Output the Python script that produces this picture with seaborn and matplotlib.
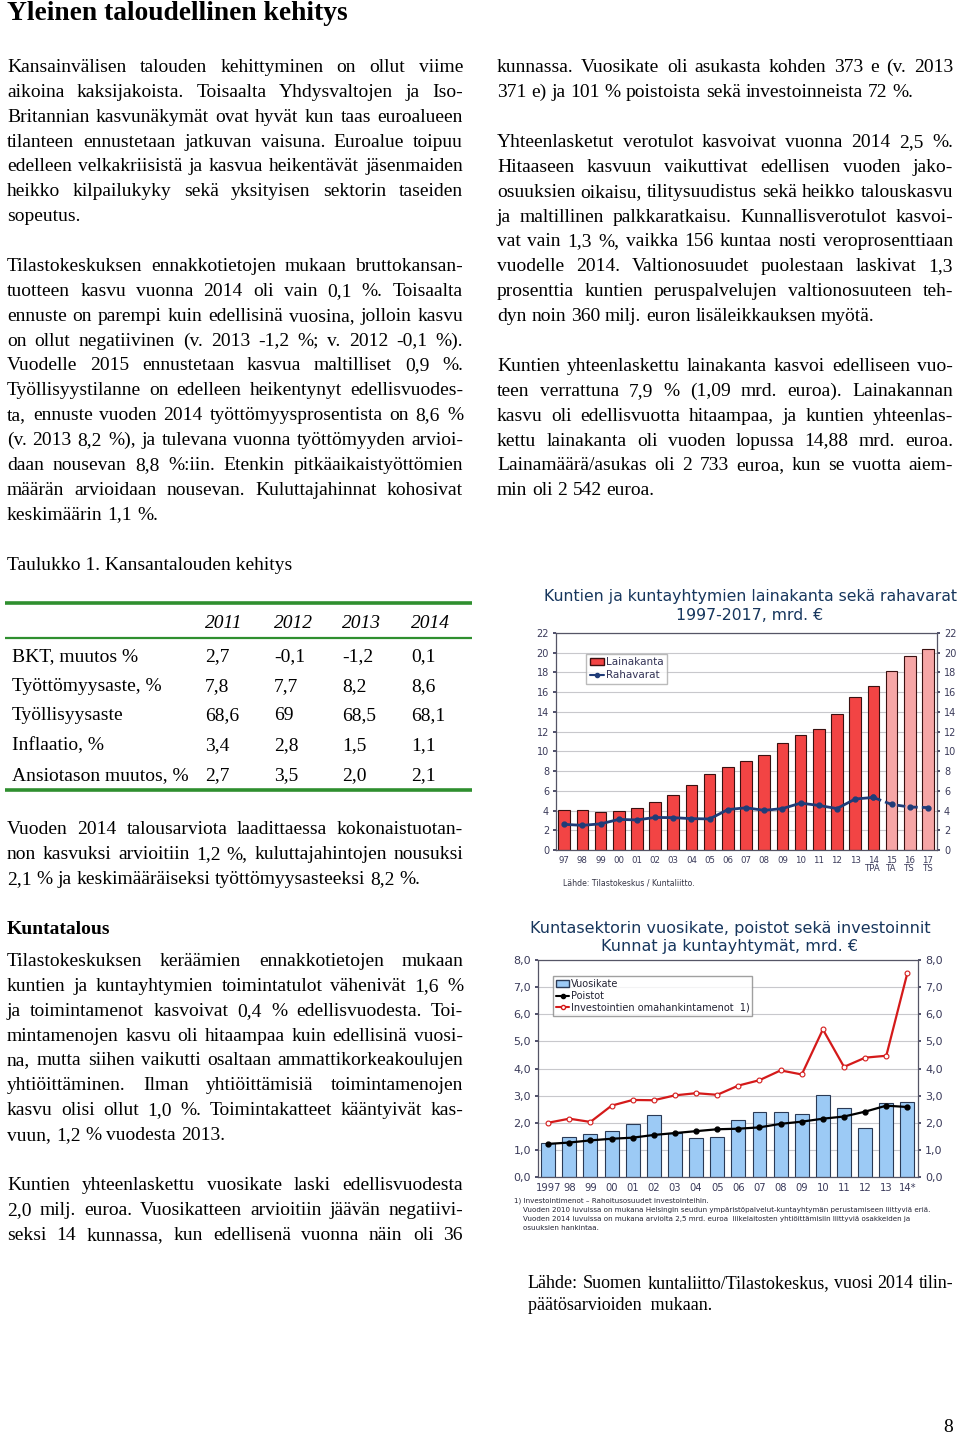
import matplotlib
matplotlib.use("Agg")
import matplotlib.pyplot as plt
from matplotlib.patches import Patch
from matplotlib.lines import Line2D
import seaborn as sns
import numpy as np

W, H = 960, 1435

# chart 1 data: lainakanta / rahavarat 1997-2017, mrd. eur
years1 = ["97", "98", "99", "00", "01", "02", "03", "04", "05", "06", "07",
          "08", "09", "10", "11", "12", "13", "14\nTPA", "15\nTA", "16\nTS", "17\nTS"]
lainakanta = [4.1, 4.1, 3.9, 4.0, 4.3, 4.85, 5.6, 6.6, 7.7, 8.4, 9.0,
              9.6, 10.85, 11.7, 12.3, 13.8, 15.5, 16.65, 18.1, 19.7, 20.35]
rahavarat = [2.6, 2.5, 2.65, 3.1, 3.05, 3.3, 3.28, 3.18, 3.15, 4.1, 4.28,
             4.02, 4.2, 4.75, 4.52, 4.2, 5.17, 5.33, 4.62, 4.36, 4.3]

# chart 2 data: vuosikate, poistot, investoinnit 1997-2014
years2 = ["1997", "98", "99", "00", "01", "02", "03", "04", "05", "06", "07",
          "08", "09", "10", "11", "12", "13", "14*"]
vuosikate = [1.24, 1.49, 1.57, 1.70, 1.97, 2.28, 1.61, 1.43, 1.46, 2.10, 2.39,
             2.41, 2.31, 3.03, 2.55, 1.80, 2.71, 2.76]
poistot = [1.22, 1.27, 1.35, 1.41, 1.45, 1.55, 1.62, 1.69, 1.76, 1.78, 1.83,
           1.96, 2.04, 2.15, 2.23, 2.41, 2.63, 2.58]
investoinnit = [2.0, 2.15, 2.03, 2.63, 2.84, 2.83, 3.01, 3.09, 3.03, 3.37, 3.57,
                3.93, 3.78, 5.44, 4.06, 4.40, 4.47, 7.53]

# table 1
tab_years = ["2011", "2012", "2013", "2014"]
tab_rows = ["BKT, muutos %", "Työttömyysaste, %", "Työllisyysaste",
            "Inflaatio, %", "Ansiotason muutos, %"]
tab_vals = [["2,7", "-0,1", "-1,2", "0,1"],
            ["7,8", "7,7", "8,2", "8,6"],
            ["68,6", "69", "68,5", "68,1"],
            ["3,4", "2,8", "1,5", "1,1"],
            ["2,7", "3,5", "2,0", "2,1"]]

sns.set_theme(style="white")
plt.rcParams["font.family"] = ["DejaVu Sans"]

fig = plt.figure(figsize=(W / 100, H / 100), dpi=100)
renderer = fig.canvas.get_renderer()
SERIF = "Liberation Serif"
BODY = 14


def fx(x):
    return x / W


def fy(y):
    return 1 - y / H


def txt(x, y, s, **kw):
    kw.setdefault("family", SERIF)
    kw.setdefault("fontsize", BODY)
    kw.setdefault("color", "black")
    return fig.text(fx(x), fy(y), s, **kw)


def width(s, size=BODY):
    t = fig.text(0, 0, s, fontsize=size, family=SERIF)
    w = t.get_window_extent(renderer).width
    t.remove()
    return w


# draw one line of text, justified between x0 and x1 if asked
def put_line(x0, x1, yc, line, justify=True, size=BODY):
    words = line.split()
    ws = [width(w, size) for w in words]
    if justify and len(words) > 1:
        gap = (x1 - x0 - sum(ws)) / (len(words) - 1)
    else:
        gap = width("x x", size) - width("xx", size)
    x = x0
    for w, wd in zip(words, ws):
        txt(x, yc + 5, w, va="baseline", fontsize=size)
        x += wd + gap


def paragraph(x0, x1, y0, lines, last_justified=False, step=24.85):
    for i, ln in enumerate(lines):
        just = (i < len(lines) - 1) or last_justified
        put_line(x0, x1, y0 + i * step, ln, just)


LX0, LX1 = 7, 463
RX0, RX1 = 497, 953

txt(7, 14, "Yleinen taloudellinen kehitys", fontsize=19.8, weight="bold", va="center")

paragraph(LX0, LX1, 67, [
    "Kansainvälisen talouden kehittyminen on ollut viime",
    "aikoina kaksijakoista. Toisaalta Yhdysvaltojen ja Iso-",
    "Britannian kasvunäkymät ovat hyvät kun taas euroalueen",
    "tilanteen ennustetaan jatkuvan vaisuna. Euroalue toipuu",
    "edelleen velkakriisistä ja kasvua heikentävät jäsenmaiden",
    "heikko kilpailukyky sekä yksityisen sektorin taseiden",
    "sopeutus."])

paragraph(LX0, LX1, 266, [
    "Tilastokeskuksen ennakkotietojen mukaan bruttokansan-",
    "tuotteen kasvu vuonna 2014 oli vain 0,1 %. Toisaalta",
    "ennuste on parempi kuin edellisinä vuosina, jolloin kasvu",
    "on ollut negatiivinen (v. 2013 -1,2 %; v. 2012 -0,1 %).",
    "Vuodelle 2015 ennustetaan kasvua maltilliset 0,9 %.",
    "Työllisyystilanne on edelleen heikentynyt edellisvuodes-",
    "ta, ennuste vuoden 2014 työttömyysprosentista on 8,6 %",
    "(v. 2013 8,2 %), ja tulevana vuonna työttömyyden arvioi-",
    "daan nousevan 8,8 %:iin. Etenkin pitkäaikaistyöttömien",
    "määrän arvioidaan nousevan. Kuluttajahinnat kohosivat",
    "keskimäärin 1,1 %."])

paragraph(RX0, RX1, 67, [
    "kunnassa. Vuosikate oli asukasta kohden 373 e (v. 2013",
    "371 e) ja 101 % poistoista sekä investoinneista 72 %."])

paragraph(RX0, RX1, 142, [
    "Yhteenlasketut verotulot kasvoivat vuonna 2014 2,5 %.",
    "Hitaaseen kasvuun vaikuttivat edellisen vuoden jako-",
    "osuuksien oikaisu, tilitysuudistus sekä heikko talouskasvu",
    "ja maltillinen palkkaratkaisu. Kunnallisverotulot kasvoi-",
    "vat vain 1,3 %, vaikka 156 kuntaa nosti veroprosenttiaan",
    "vuodelle 2014. Valtionosuudet puolestaan laskivat 1,3",
    "prosenttia kuntien peruspalvelujen valtionosuuteen teh-",
    "dyn noin 360 milj. euron lisäleikkauksen myötä."])

paragraph(RX0, RX1, 366, [
    "Kuntien yhteenlaskettu lainakanta kasvoi edelliseen vuo-",
    "teen verrattuna 7,9 % (1,09 mrd. euroa). Lainakannan",
    "kasvu oli edellisvuotta hitaampaa, ja kuntien yhteenlas-",
    "kettu lainakanta oli vuoden lopussa 14,88 mrd. euroa.",
    "Lainamäärä/asukas oli 2 733 euroa, kun se vuotta aiem-",
    "min oli 2 542 euroa."])

# table 1
txt(7, 570, "Taulukko 1. Kansantalouden kehitys", va="baseline")
GREEN = "#2f8f2f"
tab_ax = fig.add_axes([0, 0, 1, 1], zorder=-1)
tab_ax.set_xlim(0, W)
tab_ax.set_ylim(H, 0)
tab_ax.axis("off")
tab_ax.hlines([603, 790], 5, 472, color=GREEN, lw=2.6)
tab_ax.hlines([638], 5, 472, color=GREEN, lw=1.6)
col_x = [205, 274, 342, 411]
for cx, yr in zip(col_x, tab_years):
    txt(cx, 628, yr, style="italic", va="baseline")
row_y = [661, 691, 720, 750, 780]
for ry, lab, vals in zip(row_y, tab_rows, tab_vals):
    txt(12, ry, lab, va="baseline")
    for cx, v in zip(col_x, vals):
        txt(cx, ry, v, va="baseline")

paragraph(LX0, LX1, 829, [
    "Vuoden 2014 talousarviota laadittaessa kokonaistuotan-",
    "non kasvuksi arvioitiin 1,2 %, kuluttajahintojen nousuksi",
    "2,1 % ja keskimääräiseksi työttömyysasteeksi 8,2 %."])

txt(7, 934, "Kuntatalous", weight="bold", va="baseline")

paragraph(LX0, LX1, 961, [
    "Tilastokeskuksen keräämien ennakkotietojen mukaan",
    "kuntien ja kuntayhtymien toimintatulot vähenivät 1,6 %",
    "ja toimintamenot kasvoivat 0,4 % edellisvuodesta. Toi-",
    "mintamenojen kasvu oli hitaampaa kuin edellisinä vuosi-",
    "na, mutta siihen vaikutti osaltaan ammattikorkeakoulujen",
    "yhtiöittäminen. Ilman yhtiöittämisiä toimintamenojen",
    "kasvu olisi ollut 1,0 %. Toimintakatteet kääntyivät kas-",
    "vuun, 1,2 % vuodesta 2013."])

paragraph(LX0, LX1, 1185, [
    "Kuntien yhteenlaskettu vuosikate laski edellisvuodesta",
    "2,0 milj. euroa. Vuosikatteen arvioitiin jäävän negatiivi-",
    "seksi 14 kunnassa, kun edellisenä vuonna näin oli 36"],
    last_justified=True)

put_line(528, 953, 1283, "Lähde: Suomen kuntaliitto/Tilastokeskus, vuosi 2014 tilin-", size=13)
txt(528, 1310, "päätösarvioiden  mukaan.", fontsize=13, va="baseline")
txt(953, 1432, "8", ha="right", va="baseline")

NAVY = "#17365d"
TICK = "#3a3a5a"


def chart_axes(l, r, t, b):
    ax = fig.add_axes([fx(l), fy(b), (r - l) / W, (b - t) / H])
    for s in ax.spines.values():
        s.set_color("#555566")
        s.set_linewidth(0.9)
    ax.set_axisbelow(True)
    ax.yaxis.grid(True, color="#c8c8cc", lw=0.8)
    ax.tick_params(axis="y", left=True, right=True, labelleft=True,
                   labelright=True, length=2, colors=TICK, pad=3)
    ax.tick_params(axis="x", length=0, colors=TICK, pad=4)
    return ax


# chart 1
fig.text(fx(750), fy(597), "Kuntien ja kuntayhtymien lainakanta sekä rahavarat",
         ha="center", va="center", fontsize=11.3, color=NAVY)
fig.text(fx(750), fy(615), "1997-2017, mrd. €", ha="center", va="center",
         fontsize=11.3, color=NAVY)
ax1 = chart_axes(556, 937, 633, 850)
cols1 = ["#f24444"] * 18 + ["#f6a6a6"] * 3
sns.barplot(x=years1, y=lainakanta, hue=years1, palette=cols1, legend=False,
            ax=ax1, width=0.64, edgecolor="#3a1010", linewidth=0.8, saturation=1)
xs1 = np.arange(len(years1))
ax1.plot(xs1[:18], rahavarat[:18], color="#1f3c78", lw=2, marker="o", ms=3.5)
ax1.plot(xs1[17:], rahavarat[17:], color="#1f3c78", lw=2, ls=(0, (3, 1.5)),
         marker="o", ms=3.5)
ax1.set_ylim(0, 22)
ax1.set_yticks(range(0, 23, 2))
ax1.set_xlim(-0.45, 20.5)
ax1.set_xlabel("")
ax1.tick_params(axis="y", labelsize=7)
ax1.tick_params(axis="x", labelsize=6.2)
for lab in ax1.get_xticklabels():
    lab.set_linespacing(0.85)
ax1.legend(handles=[Patch(facecolor="#f24444", edgecolor="#3a1010", label="Lainakanta"),
                    Line2D([], [], color="#1f3c78", marker="o", ms=3, lw=1.5,
                           label="Rahavarat")],
           loc="upper left", bbox_to_anchor=(0.079, 0.905), borderaxespad=0,
           fontsize=7.5, frameon=True, fancybox=False, edgecolor="#aaaaaa",
           handlelength=1.4, handletextpad=0.15, borderpad=0.35, labelspacing=0.3,
           labelcolor="#333355")
fig.text(fx(563), fy(883), "Lähde: Tilastokeskus / Kuntaliitto.", fontsize=5.6,
         color="#333344", va="center")

# chart 2
fig.text(fx(730), fy(929), "Kuntasektorin vuosikate, poistot sekä investoinnit",
         ha="center", va="center", fontsize=11.5, color=NAVY)
fig.text(fx(730), fy(946), "Kunnat ja kuntayhtymät, mrd. €", ha="center",
         va="center", fontsize=11.5, color=NAVY)
ax2 = chart_axes(538, 918, 960, 1177)
sns.barplot(x=years2, y=vuosikate, color="#9ccaf5", ax=ax2, width=0.66,
            edgecolor="#2a3a55", linewidth=0.8, saturation=1)
xs2 = np.arange(len(years2))
ax2.plot(xs2, investoinnit, color="#d41a1a", lw=1.6, marker="o", ms=3.5,
         mfc="white", mec="#d41a1a", mew=0.8)
ax2.plot(xs2, poistot, color="black", lw=1.6, marker="o", ms=3.5)
ax2.set_ylim(0, 8)
ax2.set_yticks(range(0, 9))
ax2.set_yticklabels([f"{v},0" for v in range(0, 9)])
ax2.set_xlim(-0.48, 17.5)
ax2.set_xlabel("")
ax2.tick_params(axis="y", labelsize=8)
ax2.tick_params(axis="x", labelsize=7.2)
ax2.legend(handles=[Patch(facecolor="#9ccaf5", edgecolor="#2a3a55", label="Vuosikate"),
                    Line2D([], [], color="black", marker="o", ms=3, lw=1.5,
                           label="Poistot"),
                    Line2D([], [], color="#d41a1a", marker="o", ms=3, lw=1.5,
                           mfc="white", label="Investointien omahankintamenot  1)")],
           loc="upper left", bbox_to_anchor=(0.039, 0.926), borderaxespad=0,
           fontsize=7, frameon=True, fancybox=False, edgecolor="#888888",
           handlelength=1.4, handletextpad=0.15, borderpad=0.3, labelspacing=0.2,
           labelcolor="#222233")
notes = ["1) Investointimenot – Rahoitusosuudet investointeihin.",
         "    Vuoden 2010 luvuissa on mukana Helsingin seudun ympäristöpalvelut-kuntayhtymän perustamiseen liittyviä eriä.",
         "    Vuoden 2014 luvuissa on mukana arviolta 2,5 mrd. euroa  liikelaitosten yhtiöittämisiin liittyviä osakkeiden ja",
         "    osuuksien hankintaa."]
for i, n in enumerate(notes):
    fig.text(fx(514), fy(1201 + i * 9), n, fontsize=5.1, color="#222233", va="center")

fig.savefig("out.png", dpi=100)
